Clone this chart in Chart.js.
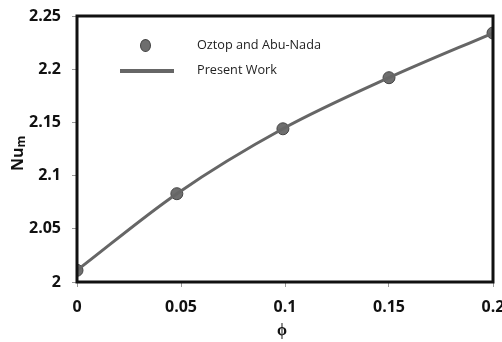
<!DOCTYPE html>
<html>
<head>
<meta charset="utf-8">
<script src="https://cdn.jsdelivr.net/npm/chart.js@4/dist/chart.umd.min.js"></script>
<style>
  body { margin: 0; background: #fff; }
  #wrap { position: relative; width: 502px; height: 342px; }
  .leg { position: absolute; font-family: "Open Sans", sans-serif; font-size: 12.7px; color: #222; white-space: nowrap; }
  .dot { position: absolute; width: 11px; height: 13px; border-radius: 50%; background: #6e6e6e; border: 1px solid #444; box-sizing: border-box; }
  .bar { position: absolute; height: 4px; background: #666; }
</style>
</head>
<body>
<div id="wrap">
  <canvas id="chart" width="502" height="342"></canvas>
  <div class="dot" style="left:140px;top:39px;"></div>
  <div class="leg" style="left:197px;top:35px;">Oztop and Abu-Nada</div>
  <div class="bar" style="left:120px;top:69px;width:54px;"></div>
  <div class="leg" style="left:197px;top:60px;">Present Work</div>
</div>
<script>
// data
var phi = [0, 0.048, 0.099, 0.15, 0.2];
var nuOztop = [2.011, 2.083, 2.144, 2.192, 2.234];
var nuPresent = [2.011, 2.083, 2.144, 2.192, 2.234];
var xTicks = ['0', '0.05', '0.1', '0.15', '0.2'];
var yTicks = ['2', '2.05', '2.1', '2.15', '2.2', '2.25'];

function pts(xs, ys) {
  return xs.map(function (x, i) { return { x: x, y: ys[i] }; });
}

// frame + axis titles
var extras = {
  id: 'extras',
  afterDraw: function (chart) {
    var c = chart.ctx, a = chart.chartArea;
    c.save();
    c.strokeStyle = '#111';
    c.lineWidth = 3;
    c.strokeRect(a.left, a.top, a.right - a.left, a.bottom - a.top);
    c.fillStyle = '#111';
    c.font = 'bold 16px "Open Sans"';
    c.textAlign = 'center';
    c.textBaseline = 'middle';
    c.fillText('\u03d5', 282, 330);
    c.translate(18, 171);
    c.rotate(-Math.PI / 2);
    c.textAlign = 'left';
    c.fillText('Nu', 0, 0);
    var w = c.measureText('Nu').width;
    c.font = 'bold 12px "Open Sans"';
    c.fillText('m', w, 4);
    c.restore();
  }
};

new Chart(document.getElementById('chart'), {
  type: 'scatter',
  data: {
    datasets: [{
      label: 'Present Work',
      data: pts(phi, nuPresent),
      showLine: true,
      borderColor: '#666',
      borderWidth: 3,
      pointRadius: 0,
      cubicInterpolationMode: 'monotone'
    }, {
      label: 'Oztop and Abu-Nada',
      data: pts(phi, nuOztop),
      showLine: false,
      pointRadius: 6,
      pointBackgroundColor: '#6e6e6e',
      pointBorderColor: '#444',
      pointBorderWidth: 1
    }]
  },
  options: {
    responsive: false,
    animation: false,
    layout: { padding: { top: 16, right: 9, left: 0, bottom: 0 } },
    plugins: { legend: { display: false }, tooltip: { enabled: false } },
    scales: {
      x: {
        type: 'linear', min: 0, max: 0.2,
        afterFit: function (s) { s.height = 60; s.paddingRight = 0; s.paddingLeft = 0; },
        afterBuildTicks: function (s) {
          s.ticks = xTicks.map(function (t) { return { value: parseFloat(t) }; });
        },
        ticks: {
          callback: function (v, i) { return xTicks[i]; },
          color: '#111', font: { family: 'Open Sans', size: 16, weight: 'bold' },
          maxRotation: 0, padding: 11
        },
        grid: { drawOnChartArea: false, tickLength: 5, color: '#999' },
        border: { display: false }
      },
      y: {
        type: 'linear', min: 2, max: 2.25,
        afterFit: function (s) { s.width = 77; s.paddingTop = 0; s.paddingBottom = 0; },
        afterBuildTicks: function (s) {
          s.ticks = yTicks.map(function (t) { return { value: parseFloat(t) }; });
        },
        ticks: {
          callback: function (v, i) { return yTicks[i]; },
          color: '#111', font: { family: 'Open Sans', size: 16, weight: 'bold' },
          padding: 11
        },
        grid: { drawOnChartArea: false, tickLength: 5, color: '#999' },
        border: { display: false }
      }
    }
  },
  plugins: [extras]
});
</script>
</body>
</html>
